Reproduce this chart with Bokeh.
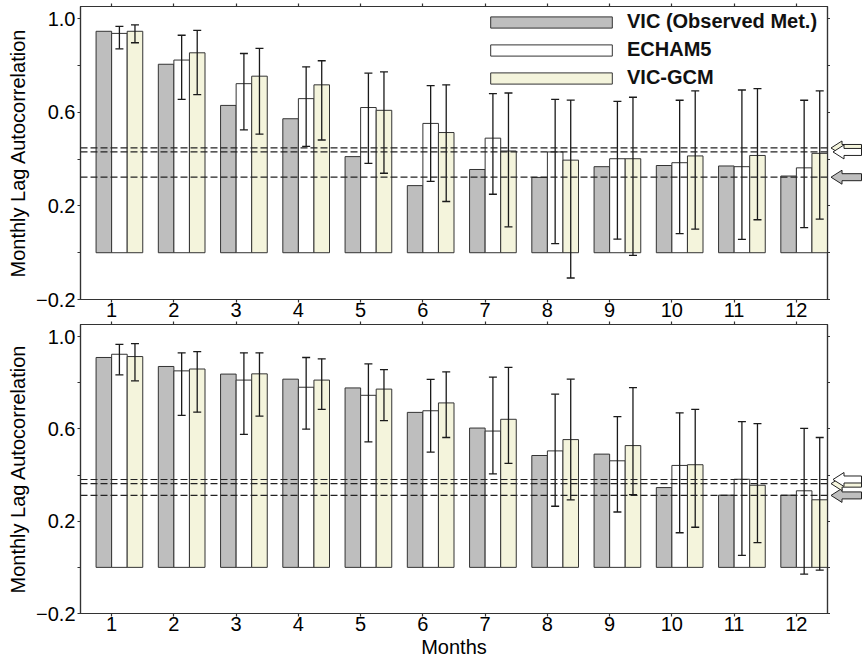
from bokeh.plotting import figure
from bokeh.models import (ColumnDataSource, FixedTicker, LinearAxis, Range1d, Span,
                          Whisker, TeeHead, Legend, LegendItem)
from bokeh.layouts import column, row
from bokeh.embed import file_html
from bokeh.resources import INLINE

# ---------------- data ----------------
months = [1, 2, 3, 4, 5, 6, 7, 8, 9, 10, 11, 12]
month_labels = [str(m) for m in months]
series_names = ["VIC (Observed Met.)", "ECHAM5", "VIC-GCM"]

# top panel
obs_top = [0.947, 0.806, 0.630, 0.573, 0.411, 0.287, 0.356, 0.322, 0.368, 0.373, 0.371, 0.328]
echam_top = [0.938, 0.824, 0.723, 0.659, 0.621, 0.553, 0.490, 0.431, 0.402, 0.385, 0.368, 0.363]
echam_top_hi = [0.968, 0.930, 0.852, 0.795, 0.768, 0.715, 0.680, 0.656, 0.647, 0.652, 0.696, 0.652]
echam_top_lo = [0.872, 0.656, 0.525, 0.455, 0.382, 0.305, 0.250, 0.039, 0.058, 0.082, 0.057, 0.107]
gcm_top = [0.947, 0.855, 0.755, 0.718, 0.609, 0.514, 0.435, 0.396, 0.402, 0.414, 0.416, 0.425]
gcm_top_hi = [0.974, 0.951, 0.874, 0.821, 0.773, 0.718, 0.683, 0.653, 0.665, 0.692, 0.702, 0.692]
gcm_top_lo = [0.898, 0.676, 0.507, 0.482, 0.340, 0.219, 0.111, -0.108, -0.011, 0.101, 0.141, 0.144]
thr_top = [0.323, 0.431, 0.448]   # obs, echam, gcm significance lines

# bottom panel
obs_bot = [0.910, 0.871, 0.838, 0.816, 0.778, 0.672, 0.604, 0.485, 0.491, 0.346, 0.313, 0.313]
echam_bot = [0.924, 0.852, 0.812, 0.781, 0.746, 0.679, 0.591, 0.505, 0.462, 0.442, 0.382, 0.332]
echam_bot_hi = [0.967, 0.930, 0.930, 0.910, 0.882, 0.815, 0.825, 0.751, 0.654, 0.670, 0.632, 0.603]
echam_bot_lo = [0.835, 0.659, 0.577, 0.599, 0.544, 0.500, 0.405, 0.265, 0.240, 0.150, 0.052, -0.029]
gcm_bot = [0.914, 0.860, 0.839, 0.812, 0.773, 0.713, 0.642, 0.554, 0.528, 0.445, 0.356, 0.293]
gcm_bot_hi = [0.970, 0.935, 0.930, 0.904, 0.857, 0.848, 0.867, 0.816, 0.779, 0.685, 0.623, 0.563]
gcm_bot_lo = [0.809, 0.673, 0.656, 0.685, 0.636, 0.563, 0.451, 0.293, 0.315, 0.174, 0.107, -0.012]
thr_bot = [0.312, 0.381, 0.363]

y_major = [-0.2, 0.2, 0.6, 1.0]
y_minor = [0.0, 0.4, 0.8]
y_all = [-0.2, 0.0, 0.2, 0.4, 0.6, 0.8, 1.0]
y_tick_labels = {-0.2: "\u22120.2", 0.2: "0.2", 0.6: "0.6", 1.0: "1.0"}

# ---------------- style ----------------
FONT = "Liberation Sans"
GRAY = "#bebebe"
WHITE = "#ffffff"
BEIGE = "#f4f4dc"
EDGE = "#333333"
colors = [GRAY, WHITE, BEIGE]
offsets = [-0.125, 0.125, 0.375]
BAR_W = 0.25
FRAME_W = 747
Y0, Y1 = -0.2, 1.053


def style_axis(ax):
    ax.axis_line_color = EDGE
    ax.axis_line_width = 1.2
    for pre in ("major", "minor"):
        setattr(ax, pre + "_tick_line_color", EDGE)
        setattr(ax, pre + "_tick_line_width", 1.2)
        setattr(ax, pre + "_tick_out", 3)
        setattr(ax, pre + "_tick_in", 0)
    ax.major_label_text_font = FONT
    ax.major_label_text_color = "black"
    ax.major_label_text_font_size = "20px"
    ax.major_label_standoff = 0
    ax.axis_label_text_font = FONT
    ax.axis_label_text_font_size = "20px"
    ax.axis_label_text_font_style = "normal"
    ax.axis_label_text_color = "black"


def make_panel(vals, lows, highs, thr, fh, top_border, bottom_border, xlabel, legend):
    yr = Range1d(Y0, Y1)
    p = figure(frame_width=FRAME_W, frame_height=fh,
               x_range=Range1d(0.5, 12.5), y_range=yr,
               output_backend="svg", toolbar_location=None,
               min_border_left=80, min_border_right=3,
               min_border_top=top_border, min_border_bottom=bottom_border)
    p.xgrid.visible = False
    p.ygrid.visible = False
    p.outline_line_color = EDGE
    p.outline_line_width = 1.2
    p.background_fill_color = "white"
    p.border_fill_color = "white"

    renderers = []
    for k in range(3):
        xs = [m + offsets[k] for m in months]
        data = dict(x=xs, top=vals[k])
        if lows[k] is not None:
            data["lo"] = lows[k]
            data["hi"] = highs[k]
        src = ColumnDataSource(data)
        r = p.vbar(x="x", top="top", bottom=0, width=BAR_W, source=src,
                   fill_color=colors[k], line_color=EDGE, line_width=1)
        renderers.append(r)
        if lows[k] is not None:
            w = Whisker(base="x", upper="hi", lower="lo", source=src, level="overlay",
                        dimension="height", line_color="#1a1a1a", line_width=1.3,
                        upper_head=TeeHead(size=8, line_color="#1a1a1a", line_width=1.3),
                        lower_head=TeeHead(size=8, line_color="#1a1a1a", line_width=1.3))
            p.add_layout(w)

    for v in thr:
        p.add_layout(Span(location=v, dimension="width", line_color="#222222",
                          line_width=1.2, line_dash="7 3", level="overlay"))

    # axes
    p.xaxis.ticker = FixedTicker(ticks=months)
    p.xaxis.major_label_overrides = {m: l for m, l in zip(months, month_labels)}
    style_axis(p.xaxis[0])
    p.yaxis.ticker = FixedTicker(ticks=y_major, minor_ticks=y_minor)
    p.yaxis.major_label_overrides = y_tick_labels
    style_axis(p.yaxis[0])
    p.yaxis.major_label_standoff = 2
    p.yaxis.axis_label = "Monthly Lag Autocorrelation"
    p.yaxis.axis_label_standoff = 4
    if xlabel:
        p.xaxis.axis_label = "Months"
        p.xaxis.axis_label_standoff = 2

    top_ax = LinearAxis(ticker=FixedTicker(ticks=[], minor_ticks=months))
    style_axis(top_ax)
    p.add_layout(top_ax, "above")
    right_ax = LinearAxis(ticker=FixedTicker(ticks=[], minor_ticks=y_all))
    style_axis(right_ax)
    p.add_layout(right_ax, "right")

    if legend:
        items = [LegendItem(label=series_names[k], renderers=[renderers[k]]) for k in range(3)]
        lg = Legend(items=items, location=(395, fh - 7 - 76),
                    glyph_width=152, glyph_height=14, label_standoff=-3,
                    label_height=21, spacing=5, padding=0, margin=0,
                    label_text_font=FONT, label_text_font_size="20px",
                    label_text_font_style="bold", label_text_color="#111111",
                    border_line_alpha=0, background_fill_alpha=0)
        p.add_layout(lg)

    # side strip with arrows pointing at the significance lines
    a = figure(frame_width=33, frame_height=fh, x_range=Range1d(0, 33), y_range=yr,
               output_backend="svg", toolbar_location=None,
               x_axis_location=None, y_axis_location=None,
               min_border_left=0, min_border_right=0,
               min_border_top=top_border, min_border_bottom=bottom_border)
    a.xgrid.visible = False
    a.ygrid.visible = False
    a.outline_line_color = None
    a.background_fill_color = "white"
    a.border_fill_color = "white"
    px_per_unit = fh / (Y1 - Y0)
    hh, sh = 7.0 / px_per_unit, 3.5 / px_per_unit
    tip, head, tail = 0.5, 11.5, 31.0
    xs_list, ys_list, fills = [], [], []
    for k, shift in [(0, 0.0), (2, 0.0), (1, 2.0)]:
        y = thr[k]
        xs_list.append([tip + shift, head + shift, head + shift, tail, tail, head + shift, head + shift])
        ys_list.append([y, y + hh, y + sh, y + sh, y - sh, y - sh, y - hh])
        fills.append(colors[k])
    a.patches(xs=xs_list, ys=ys_list, fill_color=fills, line_color="#222222", line_width=1)
    return row(p, a, spacing=0)


r1 = make_panel([obs_top, echam_top, gcm_top],
                [None, echam_top_lo, gcm_top_lo],
                [None, echam_top_hi, gcm_top_hi],
                thr_top, 293, 6, 21, False, True)
r2 = make_panel([obs_bot, echam_bot, gcm_bot],
                [None, echam_bot_lo, gcm_bot_lo],
                [None, echam_bot_hi, gcm_bot_hi],
                thr_bot, 289, 4, 0, True, False)

layout = column(r1, r2, spacing=0)
open("out.html", "w").write(file_html(layout, INLINE))
